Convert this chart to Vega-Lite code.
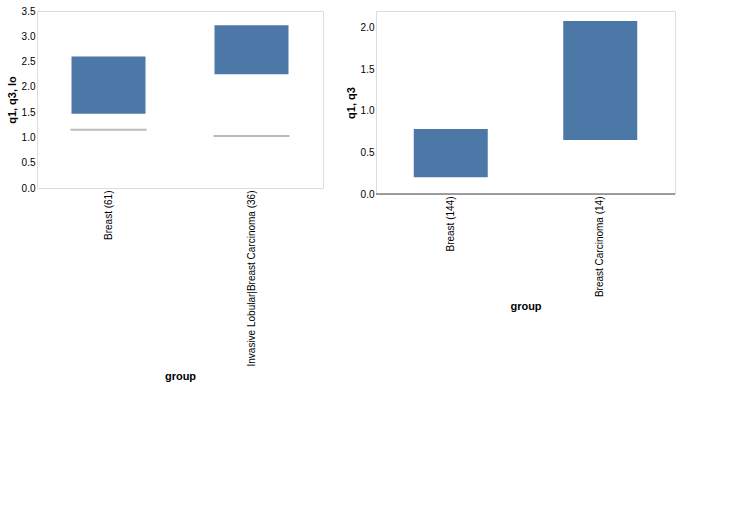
{
  "$schema": "https://vega.github.io/schema/vega-lite/v6.json",
  "datasets": {
    "boxes": [
      {"panel": "a", "group": "Breast (61)", "idx": "1", "lo": 1.15, "q1": 1.47, "med": 1.88, "q3": 2.6, "hi": 3.12},
      {"panel": "a", "group": "Invasive Lobular|Breast Carcinoma (36)", "idx": "2", "lo": 1.03, "q1": 2.25, "med": 2.8, "q3": 3.22, "hi": 3.48},
      {"panel": "b", "group": "Breast (144)", "idx": "1", "lo": 0.03, "q1": 0.2, "med": 0.49, "q3": 0.78, "hi": 1.23},
      {"panel": "b", "group": "Breast Carcinoma (14)", "idx": "2", "lo": 0.52, "q1": 0.65, "med": 1.17, "q3": 2.08, "hi": 2.3}
    ]
  },
  "config": {"axis": {"grid": false, "ticks": false, "domain": false}},
  "hconcat": [
    {
      "width": 286, "height": 177,
      "data": {"name": "boxes"},
      "transform": [{"filter": "datum.panel == 'a'"}],
      "layer": [
        {"mark": {"type": "bar", "width": 74},
         "encoding": {"x": {"field": "group", "type": "nominal"}, "y": {"field": "q1", "type": "quantitative"}, "y2": {"field": "q3"}}},
        {"mark": {"type": "tick", "size": 76, "thickness": 2, "color": "#a0a0a0"},
         "encoding": {"x": {"field": "group", "type": "nominal"}, "y": {"field": "lo", "type": "quantitative"}}}
      ]
    },
    {
      "width": 299, "height": 183,
      "data": {"name": "boxes"},
      "transform": [{"filter": "datum.panel == 'b'"}],
      "layer": [
        {"mark": {"type": "bar", "width": 74},
         "encoding": {"x": {"field": "group", "type": "nominal"}, "y": {"field": "q1", "type": "quantitative"}, "y2": {"field": "q3"}}},
        {"mark": {"type": "rule", "color": "#808080"},
         "encoding": {"y": {"datum": 0, "type": "quantitative"}}}
      ]
    }
  ]
}
